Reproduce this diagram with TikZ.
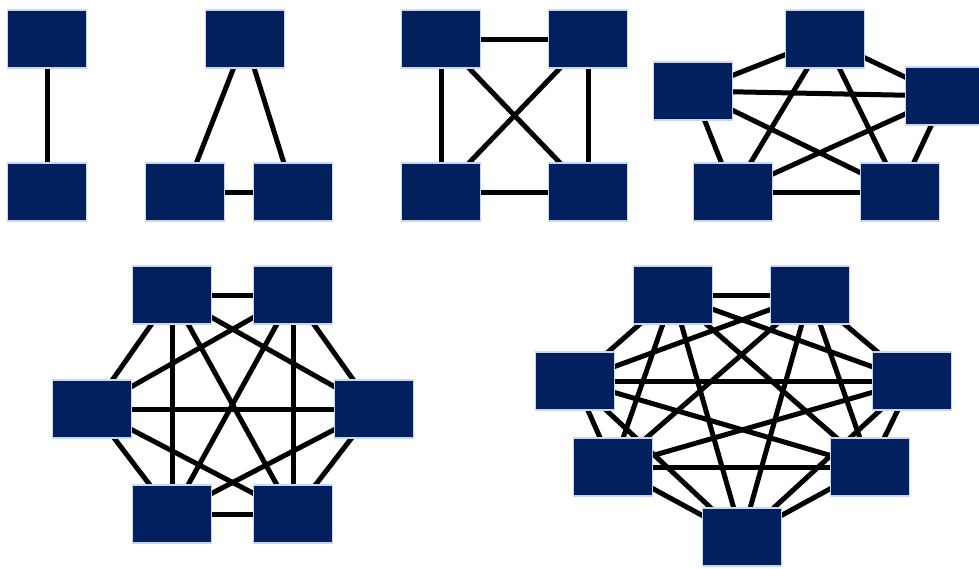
\documentclass[tikz,border=0pt]{standalone}
\usetikzlibrary{backgrounds}
\definecolor{navy}{RGB}{2,32,94}
\definecolor{glow}{RGB}{200,214,240}
\tikzset{
  box/.style={rectangle, fill=navy, draw=glow, line width=1.2pt, minimum width=79pt, minimum height=58pt, inner sep=0pt},
  edge/.style={draw=black, line width=5pt}
}
\begin{document}
\begin{tikzpicture}[x=1pt,y=-1pt]
\useasboundingbox (0,0) rectangle (979,568);
% K2
\node[box] (a1) at (47,39) {};
\node[box] (a2) at (47,192) {};
% K3
\node[box] (b1) at (245,39) {};
\node[box] (b2) at (185,192) {};
\node[box] (b3) at (293,192) {};
% K4
\node[box] (c1) at (441,39) {};
\node[box] (c2) at (588,39) {};
\node[box] (c3) at (441,192) {};
\node[box] (c4) at (588,192) {};
% K5
\node[box] (d1) at (825,39) {};
\node[box] (d2) at (693,91) {};
\node[box] (d3) at (945,96) {};
\node[box] (d4) at (733,192) {};
\node[box] (d5) at (900,192) {};
% K6
\node[box] (e1) at (172,295) {};
\node[box] (e2) at (293,295) {};
\node[box] (e3) at (92,409) {};
\node[box] (e4) at (374,409) {};
\node[box] (e5) at (172,514) {};
\node[box] (e6) at (293,514) {};
% K7
\node[box] (g1) at (673,295) {};
\node[box] (g2) at (810,295) {};
\node[box] (g3) at (575,381) {};
\node[box] (g4) at (912,381) {};
\node[box] (g5) at (613,467) {};
\node[box] (g6) at (870,467) {};
\node[box] (g7) at (742,537) {};
\begin{pgfonlayer}{background}
\foreach \n/\p in {2/a,3/b,4/c,5/d,6/e,7/g}{
  \foreach \i in {1,...,\n}{
    \foreach \j in {1,...,\n}{
      \ifnum\i<\j \draw[edge] (\p\i.center) -- (\p\j.center); \fi
    }
  }
}
\end{pgfonlayer}
\end{tikzpicture}
\end{document}
